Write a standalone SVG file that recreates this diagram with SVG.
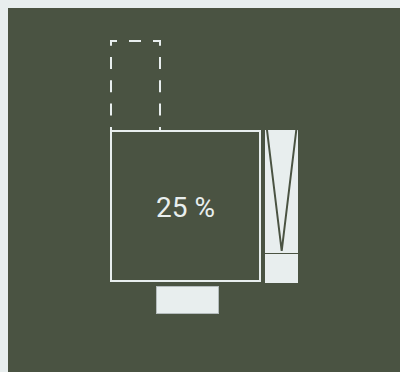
<svg xmlns="http://www.w3.org/2000/svg" width="400" height="372" viewBox="0 0 400 372">
  <style>
    .light { fill: #e8eeee; }
    .frame { fill: none; stroke: #e8eeee; stroke-width: 2; }
    .dash { stroke: #e8eeee; stroke-width: 2; fill: none; }
    .sep { stroke: #4a5342; stroke-width: 2; fill: none; }
    .label { font-family: Roboto, "Liberation Sans", sans-serif; font-size: 28px; fill: #e8eeee; text-anchor: middle; }
  </style>
  <rect x="0" y="0" width="400" height="372" fill="#e8eeee"/>
  <rect x="8" y="8" width="392" height="364" fill="#4a5342"/>

  <g id="ghost">
    <line class="dash" x1="110" y1="41" x2="161" y2="41" stroke-dasharray="12 12" stroke-dashoffset="5"/>
    <line class="dash" x1="111" y1="41" x2="111" y2="130" stroke-dasharray="12 11.3" stroke-dashoffset="7.3"/>
    <line class="dash" x1="160" y1="41" x2="160" y2="130" stroke-dasharray="12 11.3" stroke-dashoffset="7.3"/>
  </g>

  <g id="main">
    <rect class="frame" x="111" y="131" width="149" height="150"/>
    <text class="label" x="185.5" y="217">25 %</text>
  </g>

  <g id="side">
    <rect class="light" x="265" y="130" width="33" height="123"/>
    <path class="sep" d="M267,130 L281.7,251 L296.3,130"/>
    <rect class="light" x="265" y="254" width="33" height="29"/>
  </g>

  <g id="bottom">
    <rect class="light" x="156.5" y="286.5" width="62" height="27" stroke="#b4bcbc" stroke-width="1"/>
  </g>
</svg>
